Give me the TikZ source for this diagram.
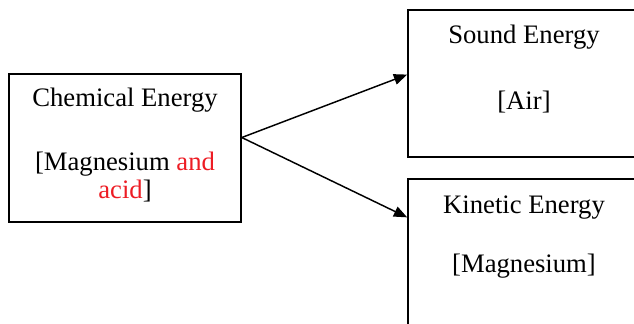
\documentclass[tikz,border=0pt]{standalone}
\usepackage{fontspec}
\setmainfont{Liberation Serif}
\usetikzlibrary{arrows.meta,positioning,calc}
\definecolor{txtRed}{RGB}{237,28,36}
\tikzset{
  box/.style={draw=black, line width=1.2pt, align=center, inner sep=0pt,
              minimum width=174pt, font=\fontsize{20}{20.5}\selectfont, anchor=base},
  arrow/.style={-{Triangle[length=10pt, width=8pt]}, line width=1.1pt}
}
\begin{document}
\begin{tikzpicture}[x=0.75pt, y=-0.75pt]
\useasboundingbox (0,0) rectangle (634,324);
\node[box, text height=93pt, text depth=18pt] (chem) at (125,198)
  {Chemical Energy\\[27.5pt][Magnesium \textcolor{txtRed}{and}\\\textcolor{txtRed}{acid}]};
\node[box, text height=75pt, text depth=35.25pt] (sound) at (524,110)
  {Sound Energy\\[29.5pt][Air]};
\node[box, text height=69.75pt, text depth=42pt] (kinetic) at (524,272)
  {Kinetic Energy\\[23.5pt][Magnesium]};
% arrow ends on the box sides
\coordinate (fork) at ($(chem.north east)!0.43!(chem.south east)$);
\coordinate (soundin) at ($(sound.north west)!0.44!(sound.south west)$);
\coordinate (kineticin) at ($(kinetic.north west)!0.26!(kinetic.south west)$);
\draw[arrow] (fork) -- (soundin);
\draw[arrow] (fork) -- (kineticin);
\end{tikzpicture}
\end{document}
